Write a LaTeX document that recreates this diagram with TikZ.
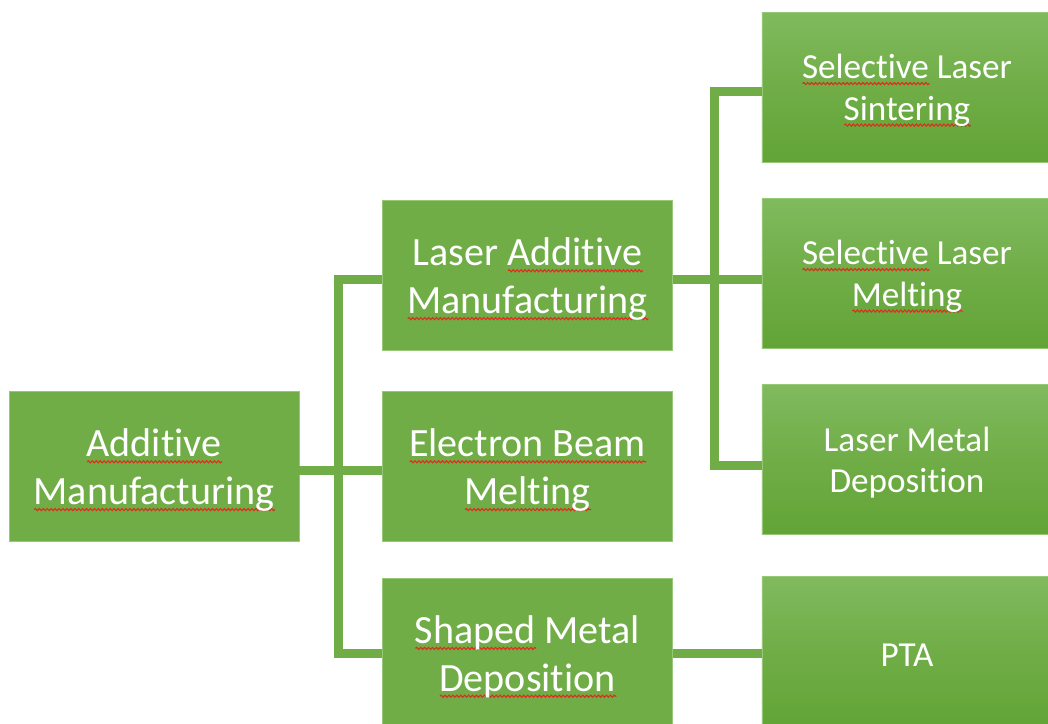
\documentclass[tikz,border=0pt]{standalone}
\usepackage{fontspec}
\setmainfont{Carlito}[Ligatures=NoCommon]
\usepackage{tikz}
\usetikzlibrary{positioning, decorations.pathmorphing}
\tikzset{>=stealth}

\definecolor{amgreen}{RGB}{112,173,71}
\definecolor{amlight}{RGB}{128,186,94}
\definecolor{amdark}{RGB}{98,164,54}
\definecolor{amedge}{RGB}{150,200,120}
\definecolor{wavered}{RGB}{225,45,30}

% red spell-check wave under a word
\newsavebox\wavebox
\newcommand\spellwave[1]{\sbox\wavebox{#1}\rlap{\tikz[baseline=0pt, x=1pt, y=1pt]
	\draw[wavered, line width=0.8pt, decorate, decoration={snake, amplitude=0.75pt, segment length=2.8pt}]
	(0pt,-3.6pt) -- (\wd\wavebox,-3.6pt);}\usebox\wavebox}

\begin{document}
\begin{tikzpicture}[x=0.025cm, y=-0.025cm,
	base/.style={draw=amedge, line width=0.4pt, text=white, align=center,
		minimum width=7.25cm, minimum height=3.75cm, inner sep=0pt},
	box/.style={base, fill=amgreen, text height=59pt, font=\fontsize{28.5}{34}\selectfont},
	leaf/.style={base, top color=amlight, bottom color=amdark, middle color=amgreen,
		text height=51pt, font=\fontsize{25}{29.5}\selectfont},
	link/.style={amgreen, line width=6.4pt}]
	\clip (0,0) rectangle (1048,724);
	\fill[white] (0,0) rectangle (1048,724);

	% first level
	\node[box] (AM) at (154,466.5) {\spellwave{Additive}\\\spellwave{Manufacturing}};
	% second level
	\node[box] (LAM) at (527.5,275.5) {Laser \spellwave{Additive}\\\spellwave{Manufacturing}};
	\node[box] (EBM) at (527.5,466.5) {\spellwave{Electron Beam}\\\spellwave{Melting}};
	\node[box] (SMD) at (527.5,653) {\spellwave{Shaped} Metal\\\spellwave{Deposition}};
	% third level
	\node[leaf] (SLS) at (907,87.5) {\spellwave{Selective} Laser\\\spellwave{Sintering}};
	\node[leaf] (SLM) at (907,273.5) {\spellwave{Selective} Laser\\\spellwave{Melting}};
	\node[leaf] (LMD) at (907,459.5) {Laser Metal\\Deposition};
	\node[leaf, text height=21pt] (PTA) at (907,651.5) {PTA};

	\coordinate (j1) at (338,464);
	\coordinate (j2) at (714,279);

	\draw[link] ([yshift=-1mm]AM.east) -- ([yshift=-1mm]AM.east -| EBM.west);
	\draw[link] ([yshift=-1.1mm]LAM.west) -| (j1) |- ([yshift=-0.2mm]SMD.west);
	\draw[link] ([yshift=-0.9mm]LAM.east) -- ([yshift=-0.9mm]LAM.east -| SLM.west);
	\draw[link] ([yshift=-1.1mm]SLS.west) -| (j2) |- ([yshift=-1.4mm]LMD.west);
	\draw[link] ([yshift=-0.1mm]SMD.east) -- ([yshift=-0.1mm]SMD.east -| PTA.west);
\end{tikzpicture}
\end{document}
